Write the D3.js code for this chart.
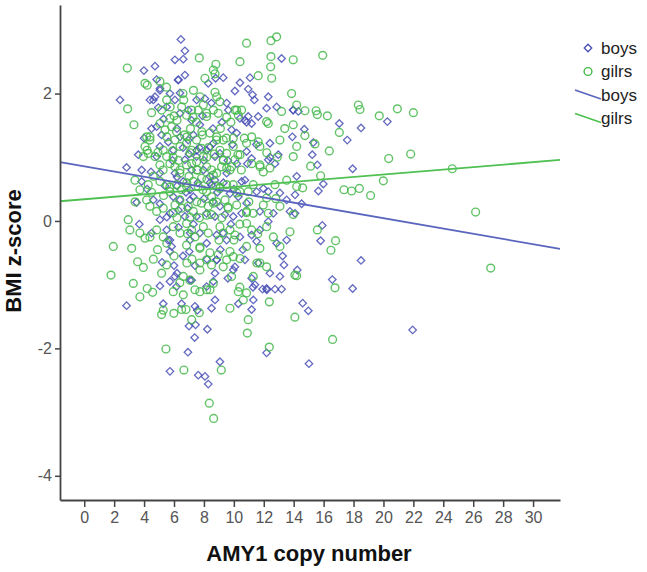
<!DOCTYPE html>
<html><head><meta charset="utf-8">
<script src="https://cdn.jsdelivr.net/npm/d3@7"></script>
<style>html,body{margin:0;padding:0;background:#fff;}</style>
</head><body>
<svg id="chart" width="647" height="572"></svg>
<script>
const xTicks = [0,2,4,6,8,10,12,14,16,18,20,22,24,26,28,30];
const yTicks = [-4,-2,0,2];
const seriesNames = ["boys","gilrs"];
// fit lines: [intercept, slope]
const boysFit = [0.859, -0.0408];
const girlsFit = [0.341, 0.0194];

const boys = [
[17.05,1.53],[18.5,1.46],[20.26,1.56],[14.71,1.44],[17.58,1.27],[15.31,1.23],[15.24,1.04],[15.58,0.88],[17.94,0.82],[15.98,0.58],[15.65,0.47],[14.53,0.27],[15.91,-0.07],[15.8,-0.31],[18.5,-0.62],[16.58,-0.92],[17.94,-1.06],[14.6,-1.29],[14.98,-1.41],[21.95,-1.71],[15.02,-2.24],
[6.46,2.85],[6.73,2.67],[6.06,2.53],[6.62,2.54],[4.73,2.43],[3.99,2.36],[6.73,2.29],[6.29,2.22],[4.84,2.22],[13.19,2.55],[8.78,2.24],[9.29,2.25],[8.29,2.16],[11.08,2.25],[10.41,2.17],[5.06,2.08],[2.39,1.90],[10.07,2.04],[10.96,2.07],[11.25,1.98],[11.37,1.90],[12.3,1.95],[6.4,2.01],[4.62,1.90],
[3.61,1.04],[2.83,0.84],[3.84,0.80],[3.5,0.29],[3.68,-0.05],[4.5,1.45],[4.84,1.48],[4.95,1.78],[4.39,1.90],[4.73,1.95],[5.17,1.35],[5.06,1.17],[5.62,1.24],[4.84,1.01],[4.46,0.77],[5.06,0.75],[3.84,0.62],[4.62,0.33],[5.06,0.27],[5.73,2.00],[6.06,1.90],[5.51,1.79],[6.4,1.69],[6.95,1.74],[7.51,1.90],[8.07,1.92],[7.18,1.58],[7.73,1.51],[6.4,1.32],[6.95,1.27],[5.95,1.11],[6.73,0.96],[7.51,1.01],[6.06,0.75],[6.62,0.62],[7.18,0.80],[8.18,1.11],[8.63,1.22],[8.74,1.01],[9.07,1.06],[9.52,1.85],[9.63,1.74],[10.41,1.61],[10.74,1.58],[10.96,1.64],[11.19,1.53],[9.85,1.43],[10.19,1.38],[11.63,1.64],[12.19,1.77],[12.86,1.79],[13.97,1.74],[14.31,1.72],[13.91,1.32],[12.41,1.22],[12.97,1.04],[12.3,0.96],[12.75,0.90],[10.85,1.09],[11.19,0.98],[10.52,0.62],[10.74,0.64],[11.52,0.46],[11.97,0.51],[12.3,0.46],[13.08,0.44],[14.2,0.70],[14.09,0.41],[13.53,0.33],[9.52,0.75],[8.74,0.64],[8.51,0.56],[7.96,0.80],[9.74,0.43],[10.3,0.38],[10.85,0.28],[11.74,0.15],[12.64,0.12],[13.75,0.15],[14.09,0.12],[5.95,0.38],[6.4,0.33],[7.07,0.49],[7.29,0.38],[5.73,0.12],[5.06,0.02],[4.5,-0.19],[5.51,-0.14],[6.29,0.17],[6.73,0.07],[7.51,0.07],[8.18,0.12],[8.74,0.07],[9.07,0.23],[9.96,0.07],[10.52,0.12],[11.74,-0.14],[11.19,-0.22],[11.52,-0.32],[12.3,-0.01],[12.86,-0.35],[13.53,-0.30],[7.73,-0.19],[8.18,-0.35],[7.07,-0.30],[5.84,-0.40],[8.85,-0.22],[9.52,-0.30],[10.41,-0.25],
[2.83,-1.33],[5.28,-1.30],[5.06,-1.02],[5.73,-0.95],[6.06,-0.87],[6.17,-1.03],[5.73,-0.48],[7.02,-0.48],[7.18,-0.93],[7.4,-1.34],[7.56,-1.40],[7.0,-1.65],[7.44,-1.63],[8.23,-1.70],[7.38,-1.83],[6.93,-2.06],[5.73,-2.36],[7.62,-2.42],[8.07,-2.44],[8.29,-2.56],[9.07,-2.21],[8.51,-1.37],[8.74,-1.24],[8.18,-1.03],[8.63,-0.95],[8.74,-0.82],[8.85,-0.61],[10.07,-0.72],[10.74,-0.61],[11.19,-0.90],[11.41,-1.00],[11.3,-1.24],[11.19,-1.39],[11.92,-1.07],[12.19,-1.06],[12.41,-0.82],[13.08,-0.87],[12.75,-1.07],[13.19,-1.07],[12.19,-2.07],[11.63,-0.66],[13.35,-0.69],[13.26,-0.55],[14.24,-0.77],
[5.4,0.55],[5.9,0.95],[6.2,1.45],[6.6,1.15],[7.0,1.05],[7.3,1.35],[7.7,1.15],[8.0,0.95],[8.4,0.7],[8.9,0.45],[9.3,0.6],[9.6,0.95],[9.9,1.2],[10.2,0.9],[10.0,0.5],[9.4,0.1],[8.6,0.3],[8.0,0.35],[7.6,0.6],[6.9,0.2],[6.3,-0.1],[5.6,-0.3],[6.6,-0.55],[7.4,-0.7],[8.2,-0.6],[9.1,-0.45],[9.8,-0.05],[10.6,-0.45],[10.9,0.9],[11.5,1.2],[6.2,0.55],[4.2,0.5],[4.0,1.3],[5.3,1.6],[7.9,1.65],[8.5,1.85],[9.2,1.55],[8.6,1.45],[6.8,0.45],[7.3,-0.05],[6.0,-0.7],[5.2,-0.65],[9.6,-0.9],[10.3,-1.3],[6.5,-1.3],
[5.06,2.05],[6.28,2.21],[10.85,1.55],[8.4,1.16],[7.52,1.11],[6.2,0.69],[8.4,0.60],[7.07,0.33],[5.52,0.06],[5.73,-0.30],[7.07,-0.19],[9.29,-0.19],[12.42,1.00],[13.96,1.74],
[6.2,-0.82],[7.07,-0.93],[8.85,-0.61],[9.96,-0.77],[11.28,-1.04],[12.2,-1.08]
];

const girls = [
[15.94,2.60],[14.75,1.73],[15.5,1.73],[15.58,1.67],[16.25,1.65],[18.32,1.82],[18.43,1.75],[19.72,1.65],[20.93,1.76],[22.0,1.70],[14.75,1.34],[15.42,1.21],[17.05,1.39],[16.38,1.10],[15.13,0.86],[15.8,0.71],[14.6,0.52],[17.36,0.49],[17.87,0.47],[18.39,0.51],[19.14,0.40],[19.99,0.63],[20.35,0.98],[21.82,1.05],[24.6,0.82],[26.16,0.14],[27.17,-0.74],[15.58,-0.14],[16.8,-0.31],[16.49,-0.46],[16.76,-1.05],[16.6,-1.86],
[2.88,2.40],[7.69,2.56],[10.85,2.79],[12.48,2.83],[12.86,2.89],[10.41,2.50],[8.8,2.46],[12.48,2.58],[13.97,2.53],[12.46,2.42],[12.53,2.24],[11.63,2.28],[8.63,2.37],[8.74,2.31],[8.07,2.24],[4.06,2.16],[4.21,2.13],[5.06,2.19],[2.9,1.76],[3.32,1.51],[13.86,2.00],[14.2,1.82],
[4.17,1.32],[4.39,1.27],[4.06,1.17],[3.95,1.01],[4.28,1.06],[3.39,0.64],[3.72,0.49],[4.28,0.57],[2.94,0.02],[5.17,1.74],[5.51,1.90],[5.73,1.61],[5.06,1.53],[5.4,1.43],[5.84,1.48],[6.17,1.40],[6.06,1.27],[6.51,1.79],[6.84,1.66],[7.18,1.74],[7.62,1.74],[7.96,1.82],[8.18,1.64],[8.63,1.74],[8.96,1.69],[8.85,1.95],[9.07,1.87],[10.07,1.74],[10.3,1.66],[10.52,1.74],[12.19,1.56],[12.3,1.53],[13.19,1.72],[13.97,1.51],[6.4,1.17],[6.84,1.22],[7.18,1.11],[7.51,1.27],[7.84,1.14],[8.4,1.38],[8.85,1.32],[9.29,1.27],[9.07,1.11],[9.52,1.06],[9.96,1.17],[10.41,1.04],[10.07,0.96],[11.19,1.32],[11.63,1.24],[11.74,1.17],[13.08,1.27],[13.97,1.01],[14.2,1.17],[11.19,0.90],[11.74,0.88],[11.97,0.77],[12.41,0.83],[12.75,0.57],[13.53,0.64],[14.2,0.54],[4.73,1.01],[5.06,0.88],[5.28,1.11],[5.51,1.01],[5.73,0.90],[6.06,0.85],[6.4,0.80],[6.84,0.88],[7.18,0.90],[7.51,0.93],[7.96,1.01],[8.18,0.85],[8.51,0.80],[8.85,0.75],[9.18,0.85],[9.52,0.83],[9.85,0.85],[4.62,0.70],[5.06,0.62],[5.51,0.57],[5.73,0.46],[6.17,0.57],[6.51,0.49],[6.84,0.54],[7.29,0.62],[7.62,0.54],[7.84,0.67],[8.18,0.46],[8.51,0.38],[9.07,0.51],[9.52,0.57],[9.96,0.57],[10.41,0.46],[10.96,0.46],[11.3,0.57],[12.19,0.36],[4.17,0.33],[4.39,0.23],[4.84,0.15],[5.28,0.20],[6.06,0.25],[6.51,0.20],[6.95,0.23],[7.29,0.15],[7.84,0.28],[8.29,0.23],[8.85,0.30],[9.41,0.33],[9.63,0.20],[10.19,0.25],[10.85,0.15],[11.3,0.12],[11.97,0.25],[12.3,0.12],[13.08,0.23],[13.97,0.10],[3.05,-0.14],[3.72,-0.19],[4.06,-0.27],[4.84,-0.14],[5.28,-0.25],[5.95,-0.09],[6.4,-0.19],[6.84,-0.04],[7.18,-0.14],[7.4,-0.25],[7.96,-0.09],[8.29,-0.19],[9.07,-0.09],[9.29,-0.19],[9.74,-0.14],[10.07,-0.22],[10.85,-0.04],[11.19,-0.14],[12.19,-0.09],[12.64,-0.25],[13.75,-0.17],[1.94,-0.40],[3.17,-0.43],[6.84,-0.38],[7.73,-0.43],[10.85,-0.40],[11.74,-0.43],[13.08,-0.40],
[1.79,-0.85],[3.57,-0.64],[3.95,-0.73],[3.28,-0.98],[3.72,-1.19],[4.21,-1.06],[4.57,-1.12],[4.62,-0.60],[5.17,-0.82],[5.51,-0.69],[5.95,-1.11],[6.62,-1.16],[5.17,-1.47],[5.28,-1.40],[5.99,-1.45],[6.51,-1.39],[6.8,-1.39],[7.18,-1.55],[7.69,-1.44],[6.62,-0.87],[7.07,-0.93],[7.4,-1.08],[7.73,-1.11],[8.18,-1.08],[8.63,-0.98],[7.73,-0.66],[8.18,-0.61],[8.51,-0.69],[8.96,-0.53],[9.29,-0.72],[9.74,-0.48],[9.96,-0.56],[10.41,-0.59],[9.85,-0.87],[9.74,-1.37],[10.3,-1.11],[10.85,-1.13],[10.63,-1.24],[10.96,-1.55],[10.9,-1.76],[12.37,-1.27],[12.37,-1.98],[11.3,-0.87],[11.74,-0.66],[12.19,-0.72],[14.08,-0.85],[14.2,-0.86],[14.08,-1.51],[5.46,-2.01],[6.66,-2.34],[9.16,-2.34],[8.36,-2.86],[8.65,-3.10],
[5.9,1.1],[6.3,0.95],[6.7,1.35],[7.1,1.45],[7.5,1.55],[7.9,1.35],[8.3,1.15],[8.7,1.05],[9.1,1.45],[9.5,1.3],[9.8,1.55],[6.0,1.65],[6.6,2.0],[7.3,2.05],[5.5,2.1],[7.0,0.7],[7.6,0.8],[8.2,0.65],[8.8,0.55],[9.3,0.95],[10.5,0.8],[10.7,1.3],[6.2,0.05],[6.9,-0.2],[7.7,0.05],[8.5,0.1],[9.2,0.05],[10.4,-0.05],[5.3,0.4],[4.5,0.45],[4.9,-0.45],[6.0,-0.55],[7.2,-0.6],[9.0,-0.3],[10.0,-0.3],[11.0,0.3],[12.8,0.35],[11.6,-0.2],[12.9,1.0],[13.4,1.45],[3.4,0.3],[4.5,1.7],
[5.74,1.79],[6.65,1.90],[7.73,1.95],[8.74,2.02],[6.2,1.58],[7.27,1.63],[8.18,1.69],[9.52,1.63],[10.19,1.74],[5.52,1.32],[6.86,1.32],[7.86,1.40],[8.85,1.27],[9.96,1.30],[10.85,1.22],[4.93,1.08],[5.94,1.00],[7.07,1.07],[8.18,1.00],[9.29,0.96],[10.27,1.04],[5.27,0.80],[6.39,0.75],[7.52,0.80],[8.63,0.72],[9.74,0.80],[5.72,0.53],[6.86,0.60],[7.93,0.49],[9.07,0.53],[10.2,0.44],[6.39,0.33],[7.52,0.30],[8.63,0.28],[9.6,0.22],[5.94,0.13],[7.07,0.06],[8.18,0.09],[10.85,0.13],[4.39,1.32],[4.2,1.11],[11.75,0.85],[12.2,1.07],
[4.39,-0.25],[5.52,-0.35],[7.73,-0.41],[8.4,-0.50],[6.86,-0.66],[7.73,-0.77],[6.39,-0.97],[8.4,-1.08],[10.4,-1.04],[9.52,-0.61],[11.54,-0.66]
];

const BLUE = "#4850b5", GREEN = "#45b94b", BLUE_LINE = "#5a66bd", GREEN_LINE = "#4fc052";
const FONT = "'Liberation Sans', Arial, sans-serif";

const svg = d3.select("#chart");
const x = d3.scaleLinear().domain([-1.62, 31.8]).range([60, 560]);
const y = d3.scaleLinear().domain([-4.38, 3.39]).range([500, 5]);

// points
const diamondPath = d3.symbol().type(d3.symbolSquare).size(28);
svg.append("g").selectAll("path").data(boys).join("path")
  .attr("d", diamondPath)
  .attr("transform", d => `translate(${x(d[0])},${y(d[1])}) rotate(45)`)
  .attr("fill", "none").attr("stroke", BLUE).attr("stroke-width", 1.3).attr("opacity", 0.85);
svg.append("g").selectAll("circle").data(girls).join("circle")
  .attr("cx", d => x(d[0])).attr("cy", d => y(d[1])).attr("r", 3.9)
  .attr("fill", "none").attr("stroke", GREEN).attr("stroke-width", 1.4).attr("opacity", 0.85);

// fit lines
const [x0, x1] = x.domain();
const fits = [[boysFit, BLUE_LINE], [girlsFit, GREEN_LINE]];
fits.forEach(([f, c]) => {
  svg.append("line")
    .attr("x1", x(x0)).attr("y1", y(f[0] + f[1]*x0))
    .attr("x2", x(x1)).attr("y2", y(f[0] + f[1]*x1))
    .attr("stroke", c).attr("stroke-width", 1.8);
});

// axes
const xAxis = svg.append("g").attr("transform", `translate(0,${y.range()[0]})`)
  .call(d3.axisBottom(x).tickValues(xTicks).tickSize(7).tickSizeOuter(0).tickPadding(5));
const yAxis = svg.append("g").attr("transform", `translate(${x.range()[0]},0)`)
  .call(d3.axisLeft(y).tickValues(yTicks).tickSize(5).tickSizeOuter(0).tickPadding(3));
[xAxis, yAxis].forEach(g => {
  g.select(".domain").attr("stroke", "#444").attr("stroke-width", 1.8);
  g.selectAll(".tick line").attr("stroke", "#444").attr("stroke-width", 1.5);
  g.selectAll(".tick text").attr("fill", "#555").style("font-family", FONT).style("font-size", "16px");
});
yAxis.selectAll(".tick text").text(d => d < 0 ? "-" + Math.abs(d) : d);

// titles
svg.append("text").attr("x", 309).attr("y", 561).attr("text-anchor", "middle")
  .style("font-family", FONT).style("font-weight", "bold").style("font-size", "22px").attr("fill", "#111")
  .text("AMY1 copy number");
svg.append("text").attr("transform", "translate(21,251) rotate(-90)").attr("text-anchor", "middle")
  .style("font-family", FONT).style("font-weight", "bold").style("font-size", "22px").attr("fill", "#111")
  .text("BMI z-score");

// legend
const lg = svg.append("g").style("font-family", FONT).style("font-size", "17px");
const ly = [48, 71.5, 95, 118.5];
lg.append("path").attr("d", diamondPath)
  .attr("transform", `translate(588,${ly[0]}) rotate(45)`).attr("fill", "none").attr("stroke", BLUE).attr("stroke-width", 1.3);
lg.append("circle").attr("cx", 588).attr("cy", ly[1]).attr("r", 3.9).attr("fill", "none").attr("stroke", GREEN).attr("stroke-width", 1.4);
lg.append("line").attr("x1", 575).attr("y1", ly[2]-5).attr("x2", 601).attr("y2", ly[2]+4).attr("stroke", BLUE_LINE).attr("stroke-width", 1.8);
lg.append("line").attr("x1", 575).attr("y1", ly[3]-5).attr("x2", 601).attr("y2", ly[3]+4).attr("stroke", GREEN_LINE).attr("stroke-width", 1.8);
[seriesNames[0], seriesNames[1], seriesNames[0], seriesNames[1]].forEach((t, i) => {
  lg.append("text").attr("x", 601).attr("y", ly[i]).attr("dy", "0.35em").attr("fill", "#222").text(t);
});
</script>
</body></html>
